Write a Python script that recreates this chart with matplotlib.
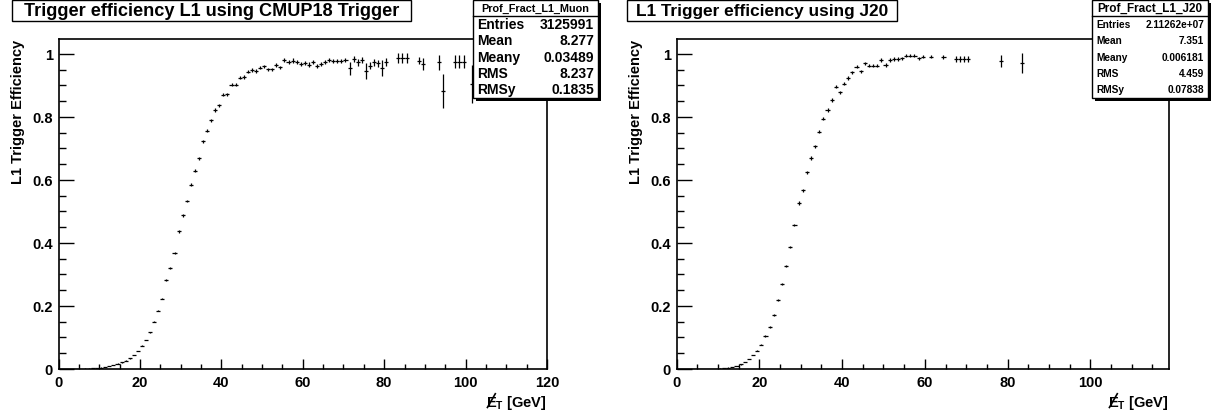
import numpy as np
import matplotlib
matplotlib.use('Agg')
import matplotlib.pyplot as plt
from matplotlib.patches import Rectangle
from matplotlib.lines import Line2D
from matplotlib.ticker import MultipleLocator, FuncFormatter

# ---------------- data ----------------
left_bins = [0, 1, 2, 3, 4, 5, 6, 7, 8, 9, 10, 11, 12, 13, 14, 15, 16, 17, 18, 19,
             20, 21, 22, 23, 24, 25, 26, 27, 28, 29, 30, 31, 32, 33, 34, 35, 36, 37, 38, 39,
             40, 41, 42, 43, 44, 45, 46, 47, 48, 49, 50, 51, 52, 53, 54, 55, 56, 57, 58, 59,
             60, 61, 62, 63, 64, 65, 66, 67, 68, 69, 70, 71, 72, 73, 74, 75, 76, 77, 78, 79,
             80, 83, 84, 85, 88, 89, 93, 94, 97, 98, 99, 101]
left_eff = [0.0, 0.0, 0.0, 0.0001, 0.0003, 0.0005, 0.0008, 0.0013, 0.002, 0.003,
            0.0045, 0.0065, 0.0095, 0.013, 0.017, 0.021, 0.026, 0.034, 0.045, 0.057,
            0.074, 0.092, 0.116, 0.150, 0.185, 0.223, 0.282, 0.320, 0.369, 0.437,
            0.488, 0.534, 0.585, 0.630, 0.669, 0.723, 0.757, 0.790, 0.822, 0.837,
            0.871, 0.872, 0.902, 0.902, 0.925, 0.927, 0.944, 0.949, 0.946, 0.957,
            0.961, 0.951, 0.951, 0.965, 0.958, 0.981, 0.975, 0.979, 0.975, 0.969,
            0.972, 0.966, 0.975, 0.961, 0.969, 0.975, 0.981, 0.978, 0.978, 0.978,
            0.981, 0.954, 0.984, 0.973, 0.980, 0.947, 0.963, 0.973, 0.970, 0.955,
            0.974, 0.988, 0.986, 0.988, 0.979, 0.968, 0.974, 0.883, 0.975, 0.975, 0.975, 0.905]
left_err = [0.001] * 26 + [0.004] * 8 + [0.005] * 21 + [0.007] * 16 + \
           [0.020, 0.010, 0.010, 0.010, 0.025, 0.012, 0.012, 0.012, 0.026,
            0.012, 0.016, 0.016, 0.016, 0.012, 0.019, 0.024, 0.054, 0.021, 0.021, 0.021, 0.060]

right_bins = [0, 1, 2, 3, 4, 5, 6, 7, 8, 9, 10, 11, 12, 13, 14, 15, 16, 17, 18, 19,
              20, 21, 22, 23, 24, 25, 26, 27, 28, 29, 30, 31, 32, 33, 34, 35, 36, 37, 38, 39,
              40, 41, 42, 43, 44, 45, 46, 47, 48, 49, 50, 51, 52, 53, 54, 55, 56, 57, 58, 59,
              61, 64, 67, 68, 69, 70, 78, 83]
right_eff = [0.0, 0.0, 0.0, 0.0, 0.0, 0.0, 0.0, 0.0, 0.0, 0.0002,
             0.0008, 0.002, 0.004, 0.006, 0.0095, 0.015, 0.022, 0.032, 0.044, 0.058,
             0.077, 0.106, 0.132, 0.172, 0.219, 0.270, 0.327, 0.386, 0.458, 0.527,
             0.567, 0.624, 0.670, 0.707, 0.753, 0.794, 0.822, 0.854, 0.896, 0.878,
             0.905, 0.924, 0.942, 0.960, 0.945, 0.970, 0.963, 0.963, 0.963, 0.981,
             0.965, 0.981, 0.984, 0.984, 0.987, 0.994, 0.994, 0.994, 0.986, 0.992,
             0.992, 0.991, 0.984, 0.984, 0.984, 0.984, 0.979, 0.971]
right_err = [0.001] * 21 + [0.003] * 8 + [0.005] * 31 + \
            [0.006, 0.007, 0.010, 0.010, 0.010, 0.010, 0.019, 0.032]

left_title = "Trigger efficiency L1 using CMUP18 Trigger"
right_title = "L1 Trigger efficiency using J20"
y_title = "L1 Trigger Efficiency"
stat_names = ["Entries", "Mean", "Meany", "RMS", "RMSy"]
left_stat_header = "Prof_Fract_L1_Muon"
left_stat_values = ["3125991", "8.277", "0.03489", "8.237", "0.1835"]
right_stat_header = "Prof_Fract_L1_J20"
right_stat_values = ["2.11262e+07", "7.351", "0.006181", "4.459", "0.07838"]

# ---------------- style ----------------
plt.rcParams['font.family'] = ['Liberation Sans', 'DejaVu Sans']
plt.rcParams['font.weight'] = 'bold'
plt.rcParams['mathtext.fontset'] = 'custom'
plt.rcParams['mathtext.rm'] = 'Liberation Sans:bold'
plt.rcParams['mathtext.bf'] = 'Liberation Sans:bold'
plt.rcParams['mathtext.it'] = 'Liberation Sans:bold'

W, H = 1216, 414
fig = plt.figure(figsize=(W / 100, H / 100), dpi=100)
fig.patch.set_facecolor('white')


def fx(x):
    return x / W


def fy(y):
    return 1 - y / H


def px_axes(x0, y0, x1, y1):
    return [fx(x0), fy(y1), (x1 - x0) / W, (y1 - y0) / H]


def setup(ax, xmax):
    ax.set_xlim(0, xmax)
    ax.set_ylim(0, 1.0476)
    ax.xaxis.set_major_locator(MultipleLocator(20))
    ax.xaxis.set_minor_locator(MultipleLocator(5))
    ax.yaxis.set_major_locator(MultipleLocator(0.2))
    ax.yaxis.set_minor_locator(MultipleLocator(0.05))
    fmt = FuncFormatter(lambda v, p: f"{v:g}")
    ax.xaxis.set_major_formatter(fmt)
    ax.yaxis.set_major_formatter(fmt)
    ax.tick_params(which='both', direction='in', top=False, right=False,
                   color='black', width=1.0, labelsize=10.5)
    ax.tick_params(axis='x', which='major', length=7.5, pad=4)
    ax.tick_params(axis='x', which='minor', length=3.8)
    ax.tick_params(axis='y', which='major', length=10.5, pad=4)
    ax.tick_params(axis='y', which='minor', length=5.2)
    for lab in ax.get_xticklabels() + ax.get_yticklabels():
        lab.set_fontweight('bold')
    for s in ax.spines.values():
        s.set_linewidth(1.2)
        s.set_color('black')


def draw_profile(ax, bins, eff, err):
    centers = np.asarray(bins, dtype=float) + 0.5
    ax.errorbar(centers, eff, xerr=0.5, yerr=err, fmt='none', ecolor='black',
                elinewidth=0.9, capsize=0, clip_on=True)


axL = fig.add_axes(px_axes(58.5, 40, 547, 370))
axR = fig.add_axes(px_axes(676.5, 40, 1169, 370))
setup(axL, 120)
setup(axR, 119)
draw_profile(axL, left_bins, left_eff, left_err)
draw_profile(axR, right_bins, right_eff, right_err)

# y titles
for xc in (18, 636):
    fig.text(fx(xc), fy(40), y_title, rotation=90, ha='center', va='top',
             fontsize=10.5, fontweight='bold')

# x titles
xlab_fs = 10.5
xlabs = []
for xr in (547, 1169):
    t = fig.text(fx(xr), fy(407), r'$\mathbf{E}_{\mathbf{T}}$ [GeV]', ha='right',
                 va='baseline', fontsize=xlab_fs, fontweight='bold')
    xlabs.append(t)

# titles
tl = fig.text(fx((12 + 411) / 2), fy(11.5), left_title, ha='center', va='center',
              fontsize=13.1, fontweight='bold', zorder=6)
tr = fig.text(fx(636), fy(11.5), right_title, ha='left', va='center',
              fontsize=12.4, fontweight='bold', zorder=6)

fig.canvas.draw()
rend = fig.canvas.get_renderer()


def box(x0, y0, x1, y1, lw=1.0, z=5, shadow=False):
    if shadow:
        fig.add_artist(Rectangle((fx(x0 + 2.5), fy(y1 + 2.5)), (x1 - x0) / W, (y1 - y0) / H,
                                 transform=fig.transFigure, facecolor='black',
                                 edgecolor='black', lw=0, zorder=z))
    fig.add_artist(Rectangle((fx(x0), fy(y1)), (x1 - x0) / W, (y1 - y0) / H,
                             transform=fig.transFigure, facecolor='white',
                             edgecolor='black', lw=lw, zorder=z + 0.1))


box(12, 1, 411, 22)
bbr = tr.get_window_extent(rend)
box(627, 1, bbr.x1 + 9, 22)

# slashed E in x titles
em = xlab_fs * 100 / 72
for t in xlabs:
    bb = t.get_window_extent(rend)
    x0 = bb.x0
    yb = H - 407
    fig.add_artist(Line2D([fx(x0 + 0.08 * em), fx(x0 + 0.62 * em)],
                          [(yb - 0.10 * em) / H, (yb + 0.84 * em) / H],
                          transform=fig.transFigure, color='black', lw=1.2))


def stats(x0, x1, header, values, hfs, rfs):
    box(x0, 1, x1, 99, lw=1.0, z=7, shadow=True)
    fig.add_artist(Line2D([fx(x0), fx(x1)], [fy(17), fy(17)], transform=fig.transFigure,
                          color='black', lw=1.0, zorder=8))
    fig.text(fx((x0 + x1) / 2), fy(9), header, ha='center', va='center',
             fontsize=hfs, fontweight='bold', zorder=9)
    for i, (n, v) in enumerate(zip(stat_names, values)):
        yc = 25 + i * 16.3
        fig.text(fx(x0 + 4), fy(yc), n, ha='left', va='center', fontsize=rfs,
                 fontweight='bold', zorder=9)
        fig.text(fx(x1 - 4), fy(yc), v, ha='right', va='center', fontsize=rfs,
                 fontweight='bold', zorder=9)


stats(473, 598, left_stat_header, left_stat_values, 7.8, 10)
stats(1092, 1208, right_stat_header, right_stat_values, 8.5, 7.3)

fig.savefig('out.png', dpi=100)
